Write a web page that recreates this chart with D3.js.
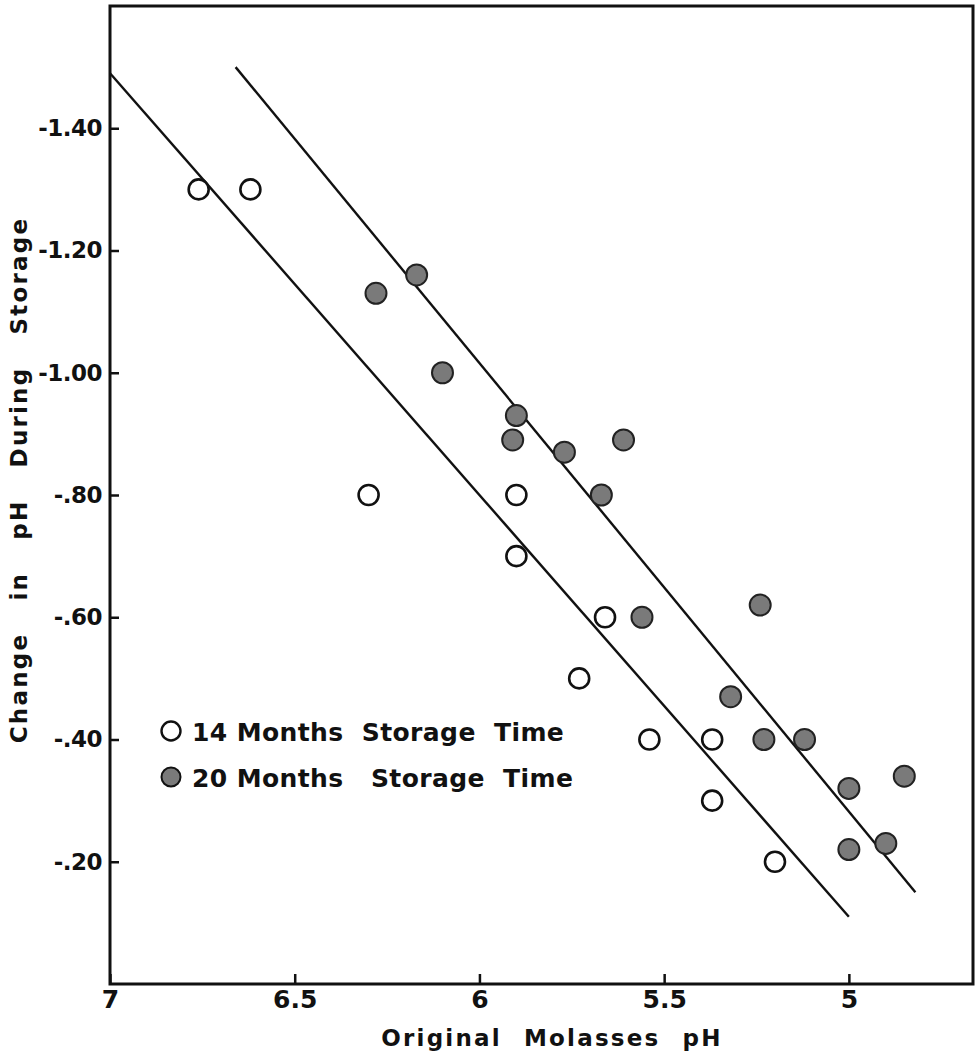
<!DOCTYPE html>
<html>
<head>
<meta charset="utf-8">
<script src="https://cdn.jsdelivr.net/npm/d3@7"></script>
<style>
  body { margin: 0; background: #fff; }
  svg { display: block; }
  .tick text { font-family: "DejaVu Sans", sans-serif; font-weight: bold; }
</style>
</head>
<body>
<div id="chart"></div>
<script>
var xTicks = [7, 6.5, 6, 5.5, 5];
var xTickLabels = ["7", "6.5", "6", "5.5", "5"];
var yTicks = [-1.4, -1.2, -1.0, -0.8, -0.6, -0.4, -0.2];
var yTickLabels = ["-1.40", "-1.20", "-1.00", "-.80", "-.60", "-.40", "-.20"];

// 14 months storage (open circles)
var ph14 = [6.76, 6.62, 6.30, 5.90, 5.90, 5.66, 5.73, 5.54, 5.37, 5.37, 5.20];
var change14 = [-1.30, -1.30, -0.80, -0.80, -0.70, -0.60, -0.50, -0.40, -0.40, -0.30, -0.20];

// 20 months storage (filled circles)
var ph20 = [6.17, 6.28, 6.10, 5.90, 5.91, 5.77, 5.61, 5.67, 5.56, 5.24, 5.32, 5.23, 5.12, 5.00, 4.85, 5.00, 4.90];
var change20 = [-1.16, -1.13, -1.00, -0.93, -0.89, -0.87, -0.89, -0.80, -0.60, -0.62, -0.47, -0.40, -0.40, -0.32, -0.34, -0.22, -0.23];

// fitted lines, [pH, change]
var fit14 = [[7.0, -1.49], [5.0, -0.11]];
var fit20 = [[6.66, -1.50], [4.82, -0.15]];

var legendLabels = ["14 Months  Storage  Time", "20 Months   Storage  Time"];

(function() {

    var width = 975, height = 1055;
    var m = { left: 110, right: 973, top: 6, bottom: 984 };

    var svg = d3.select("#chart").append("svg")
        .attr("width", width)
        .attr("height", height);

    var x = d3.scaleLinear().domain([7, 4.664]).range([m.left, m.right]);
    var y = d3.scaleLinear().domain([0, -1.6]).range([m.bottom, m.top]);

    // frame
    svg.append("rect")
        .attr("x", m.left)
        .attr("y", m.top)
        .attr("width", m.right - m.left)
        .attr("height", m.bottom - m.top)
        .attr("fill", "none")
        .attr("stroke", "#111")
        .attr("stroke-width", 3);

    var xAxis = svg.append("g")
        .attr("transform", "translate(0," + m.bottom + ")")
        .call(d3.axisBottom(x)
            .tickValues(xTicks)
            .tickSize(-10)
            .tickSizeOuter(0)
            .tickPadding(6)
            .tickFormat(function(d, i) { return xTickLabels[i]; }));
    xAxis.select(".domain").remove();
    xAxis.selectAll(".tick line").attr("stroke", "#111").attr("stroke-width", 2.5);
    xAxis.selectAll(".tick text").attr("font-size", 25).attr("fill", "#111");

    var yAxis = svg.append("g")
        .attr("transform", "translate(" + m.left + ",0)")
        .call(d3.axisLeft(y)
            .tickValues(yTicks)
            .tickSize(-9)
            .tickSizeOuter(0)
            .tickPadding(8)
            .tickFormat(function(d, i) { return yTickLabels[i]; }));
    yAxis.select(".domain").remove();
    yAxis.selectAll(".tick line").attr("stroke", "#111").attr("stroke-width", 2.5);
    yAxis.selectAll(".tick text")
        .attr("font-size", 23)
        .attr("letter-spacing", -0.5)
        .attr("fill", "#111");

    // axis titles
    svg.append("text")
        .attr("x", 552)
        .attr("y", 1046)
        .attr("text-anchor", "middle")
        .attr("font-family", "DejaVu Sans, sans-serif")
        .attr("font-weight", "bold")
        .attr("font-size", 23)
        .attr("letter-spacing", 2.2)
        .attr("word-spacing", 12)
        .attr("fill", "#111")
        .text("Original Molasses pH");

    svg.append("text")
        .attr("transform", "translate(27,480) rotate(-90)")
        .attr("text-anchor", "middle")
        .attr("font-family", "DejaVu Sans, sans-serif")
        .attr("font-weight", "bold")
        .attr("font-size", 23)
        .attr("letter-spacing", 2.2)
        .attr("word-spacing", 22)
        .attr("fill", "#111")
        .text("Change in pH During Storage");

    // fit lines
    var line = d3.line()
        .x(function(d) { return x(d[0]); })
        .y(function(d) { return y(d[1]); });

    [fit14, fit20].forEach(function(f) {
        svg.append("path")
            .attr("d", line(f))
            .attr("fill", "none")
            .attr("stroke", "#111")
            .attr("stroke-width", 2.4);
    });

    // points
    svg.append("g").selectAll("circle")
        .data(d3.range(ph14.length))
        .join("circle")
        .attr("cx", function(i) { return x(ph14[i]); })
        .attr("cy", function(i) { return y(change14[i]); })
        .attr("r", 10)
        .attr("fill", "#fff")
        .attr("stroke", "#111")
        .attr("stroke-width", 2.6);

    svg.append("g").selectAll("circle")
        .data(d3.range(ph20.length))
        .join("circle")
        .attr("cx", function(i) { return x(ph20[i]); })
        .attr("cy", function(i) { return y(change20[i]); })
        .attr("r", 10.5)
        .attr("fill", "#7a7a7a")
        .attr("stroke", "#222")
        .attr("stroke-width", 2);

    // legend
    var legend = svg.append("g");
    legendLabels.forEach(function(label, i) {
        var ly = 731 + i * 46;
        legend.append("circle")
            .attr("cx", 171)
            .attr("cy", ly)
            .attr("r", 9.5)
            .attr("fill", i === 0 ? "#fff" : "#7a7a7a")
            .attr("stroke", "#111")
            .attr("stroke-width", i === 0 ? 2.4 : 2);
        legend.append("text")
            .attr("x", 192)
            .attr("y", ly + 10)
            .attr("font-family", "DejaVu Sans, sans-serif")
            .attr("font-weight", "bold")
            .attr("font-size", 25)
            .attr("letter-spacing", 0.4)
            .attr("fill", "#111")
            .style("white-space", "pre")
            .text(label);
    });

})();
</script>
</body>
</html>
